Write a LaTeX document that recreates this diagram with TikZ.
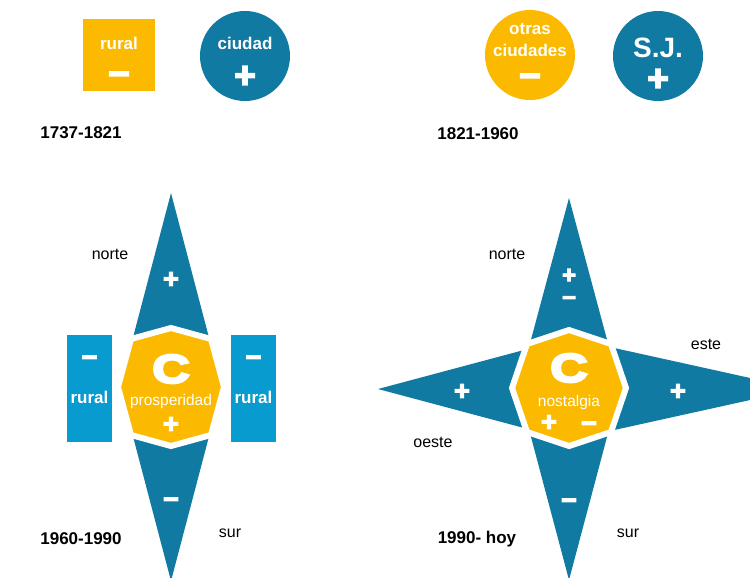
\documentclass[tikz,border=0pt]{standalone}
\usepackage{fontspec}
\setmainfont{Liberation Sans}
\newfontfamily\signfont{Liberation Sans}[FakeBold=4]
\newfontfamily\cfont{Liberation Sans}[FakeBold=6,FakeStretch=1.3]
\usepackage{xcolor}
\usetikzlibrary{positioning}

\definecolor{compblue}{RGB}{16,122,162}
\definecolor{rurblue}{RGB}{8,155,207}
\definecolor{amber}{RGB}{251,186,0}

\begin{document}
\begin{tikzpicture}[
    x=1pt, y=-1pt,
    disc/.style={circle, minimum size=90pt, inner sep=0pt},
    wtext/.style={text=white, inner sep=0pt, font=\bfseries\fontsize{17}{19}\selectfont},
    plus/.style={text=white, inner sep=0pt, yshift=-3pt, font=\signfont\bfseries\fontsize{37}{37}\selectfont},
    minus/.style={plus, yshift=-4pt},
    smallplus/.style={text=white, inner sep=0pt, yshift=-2pt, font=\signfont\bfseries\fontsize{27}{27}\selectfont},
    smallminus/.style={smallplus, yshift=-4pt},
    bigc/.style={text=white, inner sep=0pt, font=\cfont\bfseries\fontsize{40}{40}\selectfont},
    octtext/.style={text=white, inner sep=0pt, font=\fontsize{15.5}{17}\selectfont},
    lbl/.style={inner sep=0pt, font=\fontsize{16}{18}\selectfont},
    period/.style={inner sep=0pt, font=\bfseries\fontsize{17}{19}\selectfont},
    arm/.style={fill=compblue},
    octa/.style={fill=amber, draw=white, line width=6pt},
]
\useasboundingbox (0,0) rectangle (750,578);
\clip (0,0) rectangle (750,578);

% 1737-1821
\node[fill=amber, minimum size=72pt, inner sep=0pt] (ruralbox) at (119,55) {};
\node[wtext] (rural) at (119,43) {rural};
\node[minus] (ruralsign) at (119,72) {−};
\node[disc, fill=compblue] (ciudadbox) at (245,56) {};
\node[wtext] (ciudad) at (245,43) {ciudad};
\node[plus] (ciudadsign) at (245,74) {+};
\node[period] (period1) at (81,133) {1737-1821};

% 1821-1960
\node[disc, fill=amber] (otrasbox) at (530,55) {};
\node[wtext] (otras) at (530,29) {otras};
\node[wtext] (ciudades) at (530,50) {ciudades};
\node[minus] (otrassign) at (530,74) {−};
\node[disc, fill=compblue] (sjbox) at (658,56) {};
\node[wtext, font=\bfseries\fontsize{28}{30}\selectfont] (sj) at (658,48) {S.J.};
\node[plus] (sjsign) at (658,77) {+};
\node[period] (period2) at (478,134) {1821-1960};

% 1960-1990
\fill[arm] (171,193) -- (222,387) -- (171,581) -- (120,387) -- cycle;
\filldraw[octa] (171,328) -- (211,339) -- (224,387) -- (211,435) -- (171,446)
    -- (131,435) -- (118,387) -- (131,339) -- cycle;
\node[fill=rurblue, minimum width=45pt, minimum height=107pt, inner sep=0pt] (rurwest) at (89.5,388.5) {};
\node[fill=rurblue, minimum width=45pt, minimum height=107pt, inner sep=0pt] (rureast) at (253.5,388.5) {};
\node[smallminus] (rurwestsign) at (89.5,355) {−};
\node[wtext] (rurwesttext) at (89.5,397) {rural};
\node[smallminus] (rureastsign) at (253.5,355) {−};
\node[wtext] (rureasttext) at (253.5,397) {rural};
\node[smallplus] (northsign1) at (171,278) {+};
\node[smallminus] (southsign1) at (171,497) {−};
\node[bigc] (c1) at (171,369) {C};
\node[octtext] (prosperidad) at (171,401) {prosperidad};
\node[smallplus] (prospsign) at (171,423) {+};
\node[lbl] (norte1) at (110,254) {norte};
\node[lbl] (sur1) at (230,533) {sur};
\node[period] (period3) at (81,539) {1960-1990};

% 1990- hoy
\fill[arm] (569,198) -- (620,388) -- (569,580) -- (518,388) -- cycle;
\fill[arm] (378,389) -- (569,338) -- (800,389) -- (569,440) -- cycle;
\filldraw[octa] (569,330) -- (611,344) -- (626,388) -- (611,432) -- (569,446)
    -- (527,432) -- (512,388) -- (527,344) -- cycle;
\node[smallplus, font=\signfont\bfseries\fontsize{24}{24}\selectfont] (northplus) at (569,274) {+};
\node[smallminus, font=\signfont\bfseries\fontsize{24}{24}\selectfont] (northminus) at (569,295) {−};
\node[smallplus] (westsign) at (462,390) {+};
\node[smallplus] (eastsign) at (678,390) {+};
\node[smallminus] (southsign2) at (569,498) {−};
\node[bigc] (c2) at (569,368) {C};
\node[octtext] (nostalgia) at (569,402) {nostalgia};
\node[smallplus] (nostplus) at (549,421) {+};
\node[smallminus] (nostminus) at (589,421) {−};
\node[lbl] (norte2) at (507,254) {norte};
\node[lbl] (este) at (706,344) {este};
\node[lbl] (oeste) at (433,442) {oeste};
\node[lbl] (sur2) at (628,533) {sur};
\node[period] (period4) at (477,539) {1990- hoy};

\end{tikzpicture}
\end{document}
